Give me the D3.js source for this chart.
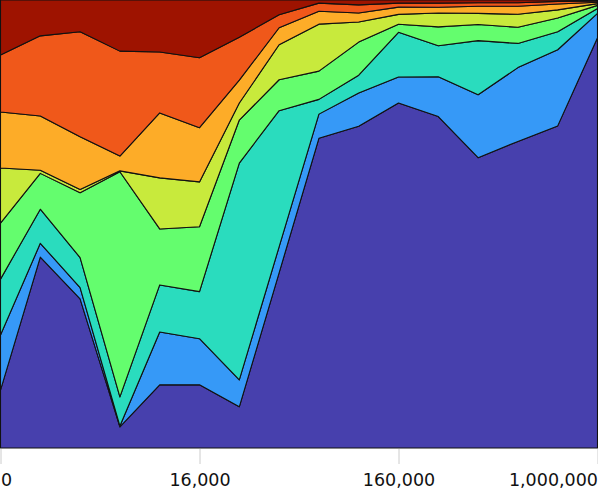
<!DOCTYPE html>
<meta charset="utf-8">
<style>
  body { margin: 0; background: #fff; }
</style>

<!-- Load d3.js -->
<script src="https://d3js.org/d3.v7.min.js"></script>

<!-- Create a div where the graph will take place -->
<div id="my_dataviz"></div>

<script>

// bins along the x axis (16 equally spaced steps)
var bins = [0, 1, 2, 3, 4, 5, 6, 7, 8, 9, 10, 11, 12, 13, 14, 15];

// tick positions (bin index) and their labels
var tickBins = [0, 5, 10, 15];
var tickLabels = ["0", "16,000", "160,000", "1,000,000"];

// share of each layer per bin, bottom layer first (percent)
var s1 = [12.9, 42.6, 33.3, 4.7, 14.1, 14.1, 9.2, 39.1, 69.2, 71.9, 77.0, 73.9, 65.0, 68.5, 71.9, 91.5];
var s2 = [12.3, 3.1, 2.5, 0.2, 11.8, 10.3, 6.0, 5.8, 5.4, 7.4, 5.8, 8.9, 14.1, 16.5, 17.0, 5.4];
var s3 = [12.5, 7.6, 6.7, 6.5, 10.5, 10.5, 48.4, 30.4, 3.3, 4.0, 10.0, 6.9, 12.1, 5.4, 4.0, 1.1];
var s4 = [12.5, 8.0, 14.5, 50.2, 12.5, 14.5, 9.6, 6.9, 6.3, 7.4, 1.8, 4.2, 3.6, 3.6, 3.1, 0.7];
var s5 = [12.3, 0.7, 0.7, 0.2, 11.4, 10.0, 3.8, 7.8, 10.5, 4.5, 2.2, 3.1, 2.5, 2.9, 1.8, 0.4];
var s6 = [12.5, 12.1, 11.8, 3.3, 14.5, 12.1, 5.1, 3.8, 2.9, 2.0, 1.6, 1.3, 1.6, 1.8, 1.3, 0.3];
var s7 = [12.7, 17.9, 23.4, 23.4, 13.6, 15.6, 9.6, 2.9, 1.8, 1.8, 0.9, 0.9, 0.8, 0.8, 0.6, 0.3];
var s8 = [12.3, 8.0, 7.1, 11.4, 11.6, 12.9, 8.3, 3.3, 0.7, 1.1, 0.7, 0.7, 0.6, 0.6, 0.3, 0.2];

var keys = ["s1", "s2", "s3", "s4", "s5", "s6", "s7", "s8"];
var colors = ["#4740ad", "#3699f7", "#2adcbe", "#64fd6e", "#c8ea3c", "#fdac28", "#f0581a", "#9e1300"];

// build rows for d3.stack
var series = {s1: s1, s2: s2, s3: s3, s4: s4, s5: s5, s6: s6, s7: s7, s8: s8};
var data = bins.map(function(b, i) {
  var row = {bin: b};
  keys.forEach(function(k) { row[k] = series[k][i]; });
  return row;
});

// set the dimensions of the graph
var width = 598, height = 491, plotH = 448;

var svg = d3.select("#my_dataviz")
  .append("svg")
    .attr("width", width)
    .attr("height", height);

var x = d3.scaleLinear()
  .domain([0, 15])
  .range([0.5, 597.5]);

var y = d3.scaleLinear()
  .domain([0, 1])
  .range([plotH, 0]);

var stacked = d3.stack()
  .keys(keys)
  .offset(d3.stackOffsetExpand)(data);

var color = d3.scaleOrdinal().domain(keys).range(colors);

// the areas
svg.append("g")
  .selectAll("path")
  .data(stacked)
  .join("path")
    .attr("fill", function(d) { return color(d.key); })
    .attr("stroke", "#111")
    .attr("stroke-width", 1.1)
    .attr("stroke-linejoin", "round")
    .attr("d", d3.area()
      .x(function(d) { return x(d.data.bin); })
      .y0(function(d) { return y(d[0]); })
      .y1(function(d) { return y(d[1]); })
    );

// X axis
var xAxis = svg.append("g")
  .attr("transform", "translate(0," + (plotH + 1) + ")")
  .call(d3.axisBottom(x)
    .tickValues(tickBins)
    .tickFormat(function(d, i) { return tickLabels[i]; })
    .tickSize(15)
    .tickPadding(9.5));

xAxis.select(".domain").remove();
xAxis.selectAll(".tick line").attr("stroke", "#ccc");
xAxis.selectAll(".tick text")
  .attr("fill", "#111")
  .style("font-family", "DejaVu Sans, sans-serif")
  .style("font-size", "17.5px")
  .attr("text-anchor", function(d, i) {
    return i === 0 ? "start" : (i === tickBins.length - 1 ? "end" : "middle");
  });

</script>
